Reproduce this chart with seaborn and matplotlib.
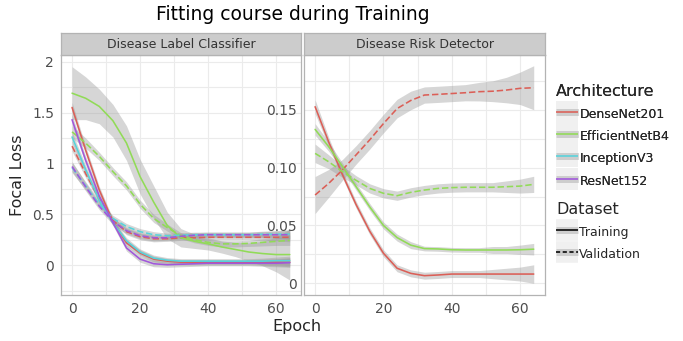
import matplotlib
matplotlib.use('Agg')
import matplotlib.pyplot as plt
from matplotlib.lines import Line2D
from matplotlib.ticker import FixedLocator, FixedFormatter
import seaborn as sns
import pandas as pd

# ---- data (smoothed focal loss) ----
epochs = [0, 4, 8, 12, 16, 20, 24, 28, 32, 36, 40, 44, 48, 52, 56, 60, 64]

architectures = ['DenseNet201', 'EfficientNetB4', 'InceptionV3', 'ResNet152']
datasets = ['Training', 'Validation']
tasks = ['Disease Label Classifier', 'Disease Risk Detector']
palette = ['#DB5F57', '#91DB57', '#57D3DB', '#A157DB']

# Disease Label Classifier
dlc_densenet_train = [1.55, 1.13, 0.74, 0.43, 0.22, 0.12, 0.06, 0.04, 0.03, 0.03, 0.03, 0.03, 0.03, 0.03, 0.03, 0.03, 0.03]
dlc_densenet_val = [1.17, 0.90, 0.65, 0.44, 0.33, 0.28, 0.26, 0.26, 0.27, 0.27, 0.275, 0.275, 0.275, 0.275, 0.275, 0.275, 0.275]
dlc_efficient_train = [1.69, 1.64, 1.56, 1.42, 1.20, 0.87, 0.62, 0.39, 0.27, 0.235, 0.21, 0.18, 0.155, 0.13, 0.115, 0.105, 0.105]
dlc_efficient_val = [1.31, 1.20, 1.07, 0.92, 0.78, 0.60, 0.46, 0.37, 0.29, 0.25, 0.225, 0.21, 0.21, 0.215, 0.225, 0.235, 0.245]
dlc_inception_train = [1.26, 0.94, 0.64, 0.42, 0.24, 0.13, 0.07, 0.05, 0.04, 0.04, 0.04, 0.04, 0.04, 0.04, 0.04, 0.045, 0.045]
dlc_inception_val = [0.96, 0.78, 0.60, 0.46, 0.38, 0.33, 0.30, 0.29, 0.295, 0.30, 0.30, 0.30, 0.30, 0.30, 0.305, 0.305, 0.305]
dlc_resnet_train = [1.43, 1.03, 0.68, 0.42, 0.17, 0.06, 0.015, 0.005, 0.01, 0.015, 0.02, 0.02, 0.02, 0.02, 0.02, 0.02, 0.025]
dlc_resnet_val = [0.97, 0.77, 0.58, 0.43, 0.34, 0.29, 0.27, 0.27, 0.285, 0.295, 0.30, 0.30, 0.30, 0.30, 0.30, 0.30, 0.30]

# confidence band half widths
dlc_densenet_train_se = [0.05, 0.04, 0.035, 0.03, 0.03, 0.03, 0.03, 0.025, 0.025, 0.025, 0.025, 0.025, 0.025, 0.025, 0.03, 0.035, 0.045]
dlc_densenet_val_se = [0.05, 0.04, 0.035, 0.03, 0.03, 0.03, 0.03, 0.025, 0.025, 0.025, 0.025, 0.025, 0.025, 0.025, 0.03, 0.035, 0.045]
dlc_efficient_train_se = [0.26, 0.21, 0.17, 0.16, 0.17, 0.17, 0.16, 0.13, 0.09, 0.07, 0.06, 0.06, 0.07, 0.09, 0.12, 0.17, 0.25]
dlc_efficient_val_se = [0.06, 0.05, 0.04, 0.04, 0.04, 0.04, 0.04, 0.035, 0.03, 0.03, 0.03, 0.03, 0.03, 0.03, 0.035, 0.04, 0.05]
dlc_inception_train_se = [0.05, 0.04, 0.035, 0.03, 0.03, 0.03, 0.03, 0.025, 0.025, 0.025, 0.025, 0.025, 0.025, 0.025, 0.03, 0.035, 0.045]
dlc_inception_val_se = [0.05, 0.04, 0.035, 0.03, 0.03, 0.03, 0.03, 0.025, 0.025, 0.025, 0.025, 0.025, 0.025, 0.025, 0.03, 0.035, 0.045]
dlc_resnet_train_se = [0.05, 0.04, 0.035, 0.03, 0.03, 0.03, 0.03, 0.025, 0.025, 0.025, 0.025, 0.025, 0.025, 0.025, 0.03, 0.035, 0.045]
dlc_resnet_val_se = [0.05, 0.04, 0.035, 0.03, 0.03, 0.03, 0.03, 0.025, 0.025, 0.025, 0.025, 0.025, 0.025, 0.025, 0.03, 0.035, 0.045]

# Disease Risk Detector
drd_densenet_train = [0.1526, 0.122, 0.094, 0.068, 0.045, 0.026, 0.013, 0.0086, 0.0066, 0.0072, 0.008, 0.008, 0.008, 0.008, 0.008, 0.008, 0.008]
drd_densenet_val = [0.0763, 0.0864, 0.098, 0.111, 0.124, 0.138, 0.151, 0.158, 0.1627, 0.1633, 0.164, 0.1647, 0.1656, 0.166, 0.167, 0.1685, 0.169]
drd_efficient_train = [0.133, 0.118, 0.101, 0.0835, 0.066, 0.050, 0.0395, 0.033, 0.030, 0.0297, 0.029, 0.0288, 0.0288, 0.0288, 0.0288, 0.029, 0.0295]
drd_efficient_val = [0.1123, 0.105, 0.0965, 0.089, 0.082, 0.0778, 0.0757, 0.0786, 0.0806, 0.082, 0.0827, 0.083, 0.083, 0.083, 0.0835, 0.084, 0.0855]

drd_densenet_train_se = [0.006, 0.004, 0.003, 0.003, 0.003, 0.003, 0.003, 0.003, 0.003, 0.003, 0.003, 0.003, 0.003, 0.004, 0.005, 0.006, 0.008]
drd_densenet_val_se = [0.016, 0.012, 0.009, 0.008, 0.008, 0.008, 0.008, 0.008, 0.007, 0.007, 0.007, 0.007, 0.008, 0.009, 0.011, 0.014, 0.019]
drd_efficient_train_se = [0.005, 0.004, 0.003, 0.003, 0.003, 0.003, 0.003, 0.003, 0.002, 0.002, 0.002, 0.002, 0.002, 0.003, 0.003, 0.004, 0.005]
drd_efficient_val_se = [0.008, 0.006, 0.005, 0.004, 0.004, 0.004, 0.004, 0.004, 0.004, 0.004, 0.004, 0.004, 0.004, 0.004, 0.005, 0.006, 0.007]

series = [
    (tasks[0], 'DenseNet201', 'Training', dlc_densenet_train, dlc_densenet_train_se),
    (tasks[0], 'DenseNet201', 'Validation', dlc_densenet_val, dlc_densenet_val_se),
    (tasks[0], 'EfficientNetB4', 'Training', dlc_efficient_train, dlc_efficient_train_se),
    (tasks[0], 'EfficientNetB4', 'Validation', dlc_efficient_val, dlc_efficient_val_se),
    (tasks[0], 'InceptionV3', 'Training', dlc_inception_train, dlc_inception_train_se),
    (tasks[0], 'InceptionV3', 'Validation', dlc_inception_val, dlc_inception_val_se),
    (tasks[0], 'ResNet152', 'Training', dlc_resnet_train, dlc_resnet_train_se),
    (tasks[0], 'ResNet152', 'Validation', dlc_resnet_val, dlc_resnet_val_se),
    (tasks[1], 'DenseNet201', 'Training', drd_densenet_train, drd_densenet_train_se),
    (tasks[1], 'DenseNet201', 'Validation', drd_densenet_val, drd_densenet_val_se),
    (tasks[1], 'EfficientNetB4', 'Training', drd_efficient_train, drd_efficient_train_se),
    (tasks[1], 'EfficientNetB4', 'Validation', drd_efficient_val, drd_efficient_val_se),
]

rows = []
for task, arch, ds, vals, se in series:
    for e, v, s in zip(epochs, vals, se):
        rows.append({'Task': task, 'Architecture': arch, 'Dataset': ds,
                     'Epoch': e, 'Loss': v, 'lo': v - s, 'hi': v + s})
df = pd.DataFrame(rows)

# ---- style ----
sns.set_style('white')
plt.rcParams['font.family'] = ['DejaVu Sans']
grid_col = '#ebebeb'
border_col = '#b3b3b3'
text_col = '#4d4d4d'
line_w = 1.15
color_map = dict(zip(architectures, palette))
dash_map = {'Training': '', 'Validation': (4, 1.8)}

fig = plt.figure(figsize=(6.83, 3.41), dpi=100)
W, H = 683, 341
panel_px = [(61, 301), (304, 545)]
top_px, bot_px = 55, 295
strip_h = 22

ylims = [(-0.292, 2.065), (-0.0101, 0.1973)]

axes = []
for i, task in enumerate(tasks):
    x0, x1 = panel_px[i]
    ax = fig.add_axes([x0 / W, 1 - bot_px / H, (x1 - x0) / W, (bot_px - top_px) / H])
    axes.append(ax)
    sub = df[df['Task'] == task]

    # grey confidence ribbons
    for (arch, ds), g in sub.groupby(['Architecture', 'Dataset']):
        ax.fill_between(g['Epoch'], g['lo'], g['hi'], color='#999999',
                        alpha=0.4, lw=0, zorder=2)

    sns.lineplot(data=sub, x='Epoch', y='Loss', hue='Architecture', style='Dataset',
                 palette=color_map, dashes=dash_map, hue_order=architectures,
                 style_order=datasets, lw=line_w, legend=False, ax=ax, zorder=3)

    ax.set_xlim(-3.25, 67.3)
    ax.set_ylim(*ylims[i])
    ax.set_xlabel('')
    ax.set_ylabel('')
    ax.xaxis.set_major_locator(FixedLocator([0, 20, 40, 60]))
    ax.xaxis.set_minor_locator(FixedLocator([10, 30, 50]))
    ax.grid(True, which='both', color=grid_col, lw=0.8, zorder=0)
    ax.set_axisbelow(True)
    for sp in ax.spines.values():
        sp.set_color(border_col)
        sp.set_linewidth(0.9)
    ax.tick_params(which='major', length=3, color=border_col, labelcolor=text_col,
                   labelsize=10, pad=2)
    ax.tick_params(which='minor', length=2, color=border_col)

    # facet strip
    sax = fig.add_axes([x0 / W, 1 - top_px / H, (x1 - x0) / W, strip_h / H])
    sax.set_facecolor('#cccccc')
    sax.set_xticks([])
    sax.set_yticks([])
    for sp in sax.spines.values():
        sp.set_color(border_col)
        sp.set_linewidth(0.9)
    sax.text(0.5, 0.5, task, ha='center', va='center', fontsize=9, color='#333333',
             transform=sax.transAxes)

axes[0].yaxis.set_major_locator(FixedLocator([0, 0.5, 1, 1.5, 2]))
axes[0].yaxis.set_major_formatter(FixedFormatter(['0', '0.5', '1', '1.5', '2']))
axes[0].yaxis.set_minor_locator(FixedLocator([-0.25, 0.25, 0.75, 1.25, 1.75]))
axes[1].yaxis.set_major_locator(FixedLocator([0, 0.05, 0.10, 0.15]))
axes[1].yaxis.set_major_formatter(FixedFormatter(['0', '0.05', '0.10', '0.15']))
axes[1].yaxis.set_minor_locator(FixedLocator([0.025, 0.075, 0.125, 0.175]))

fig.text(293 / W, 1 - 15 / H, 'Fitting course during Training', ha='center', va='center',
         fontsize=13.5, color='black')
fig.text(18 / W, 1 - 175 / H, 'Focal Loss', ha='center', va='center', rotation=90,
         fontsize=11.5)
fig.text(297 / W, 1 - 327 / H, 'Epoch', ha='center', va='center', fontsize=11.5)


# legends: light key background + grey ribbon + line
def key(color, dashes=None):
    bg = Line2D([], [], color='#f0f0f0', lw=15.5, solid_capstyle='butt')
    rib = Line2D([], [], color='#999999', alpha=0.4, lw=5, solid_capstyle='butt')
    ln = Line2D([], [], color=color, lw=line_w, solid_capstyle='butt')
    if dashes:
        ln.set_dashes(dashes)
    return (bg, rib, ln)


arch_handles = [key(c) for c in palette]
ds_handles = [key('black'), key('black', (2.6, 1.6))]

leg_kw = dict(loc='upper left', frameon=False, fontsize=9, title_fontsize=11.5,
              handlelength=1.75, handleheight=1.6, handletextpad=0.1,
              labelspacing=0.5, alignment='left', borderpad=0)
leg1 = fig.legend(arch_handles, architectures, title='Architecture',
                  bbox_to_anchor=(550 / W, 1 - 78 / H), **leg_kw)
leg2 = fig.legend(ds_handles, datasets, title='Dataset',
                  bbox_to_anchor=(550 / W, 1 - 196 / H), **leg_kw)
fig.add_artist(leg1)

fig.savefig('out.png', dpi=100)
